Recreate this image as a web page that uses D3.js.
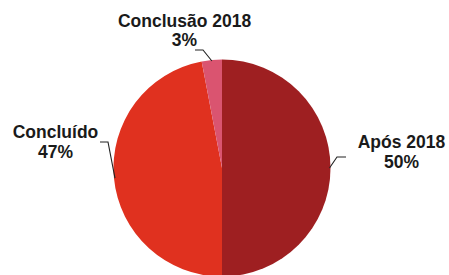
<!DOCTYPE html>
<html><head><meta charset="utf-8">
<script src="https://cdn.jsdelivr.net/npm/d3@7"></script>
<style>body{margin:0;background:#fff}svg{display:block}</style>
</head><body>
<script>
const categories = ["Após 2018", "Concluído", "Conclusão 2018"];
const values = [50, 47, 3];
const valueLabels = ["50%", "47%", "3%"];
const colors = ["#9E1F21", "#E0311F", "#DA5470"];

const W = 449, H = 275;
const cx = 222, cy = 168, R = 108.5;
const svg = d3.select("body").append("svg").attr("width", W).attr("height", H);
const g = svg.append("g").attr("transform", `translate(${cx},${cy})`);

const data = categories.map((c, i) => ({cat: c, v: values[i], lab: valueLabels[i], col: colors[i]}));
const pie = d3.pie().value(d => d.v).sort(null);
const arc = d3.arc().innerRadius(0).outerRadius(R);
const arcs = pie(data);

g.selectAll("path.slice").data(arcs).enter().append("path")
  .attr("class", "slice")
  .attr("d", arc)
  .attr("fill", d => d.data.col);

// label layout (positions relative to chart, not data)
const labelPos = [
  {x: 401.5, y: 148, elbow: [[337, 157], [346, 157]]},
  {x: 55.5, y: 138, elbow: [[108, 142], [100, 142]]},
  {x: 184.5, y: 26.5, elbow: [[203, 50], [195, 50]]}
];

arcs.forEach((a, i) => {
  const mid = (a.startAngle + a.endAngle) / 2;
  const px = cx + Math.sin(mid) * (R - 1);
  const py = cy - Math.cos(mid) * (R - 1);
  const lp = labelPos[i];
  const pts = [[px, py], ...lp.elbow];
  svg.append("path")
    .attr("d", d3.line()(pts))
    .attr("fill", "none").attr("stroke", "#222").attr("stroke-width", 1.1);
  const t = svg.append("text")
    .attr("text-anchor", "middle")
    .attr("font-family", "'Liberation Sans', Arial, sans-serif")
    .attr("font-weight", "bold").attr("font-size", "17.5px").attr("fill", "#1a1a1a");
  t.append("tspan").attr("x", lp.x).attr("y", lp.y).text(a.data.cat);
  t.append("tspan").attr("x", lp.x).attr("y", lp.y + 19.5).text(a.data.lab);
});
</script>
</body></html>
